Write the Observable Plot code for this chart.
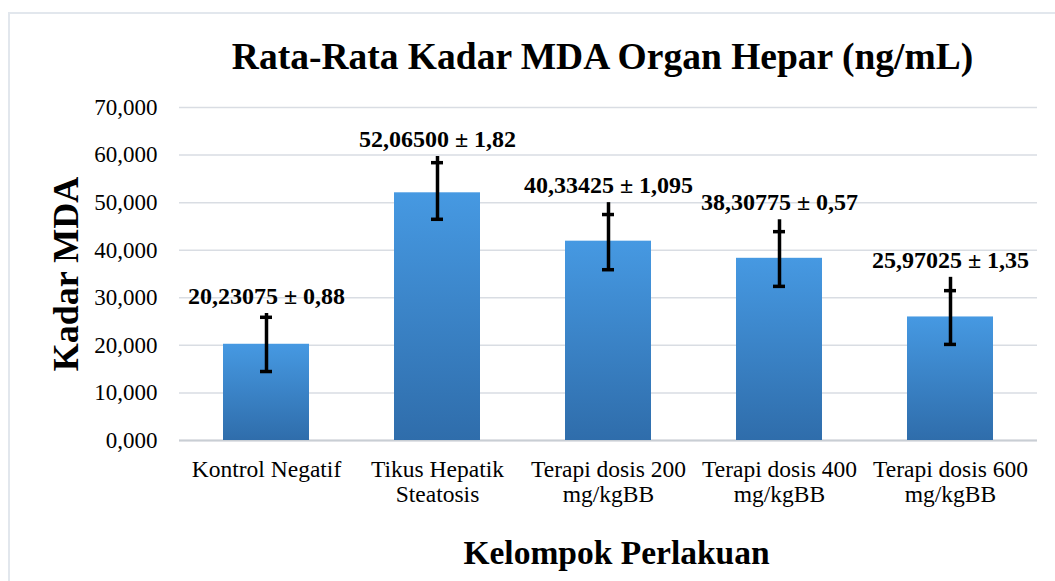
<!DOCTYPE html>
<html>
<head>
<meta charset="utf-8">
<script src="https://cdn.jsdelivr.net/npm/d3@7"></script>
<script src="https://cdn.jsdelivr.net/npm/@observablehq/plot@0.6"></script>
<style>
  html, body { margin: 0; padding: 0; background: #fff; }
  body { width: 1055px; height: 581px; overflow: hidden; position: relative; font-family: "Liberation Serif", "Times New Roman", serif; }
  #frame { position: absolute; left: 8px; top: 12px; width: 1100px; height: 620px; border: 2px solid #e2e7ed; box-sizing: border-box; }
  #chart { position: absolute; left: 0; top: 0; }
</style>
</head>
<body>
<div id="frame"></div>
<div id="chart"></div>
<script>
const titleText = "Rata-Rata Kadar MDA Organ Hepar (ng/mL)";
const yTitle = "Kadar MDA";
const xTitle = "Kelompok Perlakuan";
const categories = ["Kontrol Negatif", "Tikus Hepatik Steatosis", "Terapi dosis 200 mg/kgBB", "Terapi dosis 400 mg/kgBB", "Terapi dosis 600 mg/kgBB"];
const tickLabels = ["Kontrol Negatif", "Tikus Hepatik\nSteatosis", "Terapi dosis 200\nmg/kgBB", "Terapi dosis 400\nmg/kgBB", "Terapi dosis 600\nmg/kgBB"];
const means = [20.23, 52.07, 41.9, 38.3, 25.97];
const errLow = [14.5, 46.5, 35.9, 32.4, 20.2];
const errCap = [25.9, 58.4, 47.5, 43.9, 31.5];
const errHigh = [26.7, 59.7, 50.0, 46.4, 34.3];
const valueLabels = ["20,23075 ± 0,88", "52,06500 ± 1,82", "40,33425 ± 1,095", "38,30775 ± 0,57", "25,97025 ± 1,35"];
const yTicks = [0, 10, 20, 30, 40, 50, 60, 70];

const data = categories.map((c, i) => ({
  cat: c, mean: means[i], low: errLow[i], cap: errCap[i], high: errHigh[i], label: valueLabels[i]
}));

const idLocale = d3.formatLocale({decimal: ",", thousands: ".", grouping: [3], currency: ["", ""]});
const fmt = idLocale.format(".3f");

const defs = () => {
  const d = d3.create("svg:defs");
  const g = d.append("linearGradient").attr("id", "barGrad").attr("x1", 0).attr("y1", 0).attr("x2", 0).attr("y2", 1);
  g.append("stop").attr("offset", "0%").attr("stop-color", "#4699e2");
  g.append("stop").attr("offset", "100%").attr("stop-color", "#2f6dab");
  return d.node();
};

const chart = Plot.plot({
  width: 1055,
  height: 581,
  marginLeft: 179,
  marginRight: 18,
  marginTop: 107,
  marginBottom: 141,
  style: { fontFamily: "'Liberation Serif', 'Times New Roman', serif", color: "#000", background: "transparent" },
  x: { domain: categories, paddingInner: 0.5, paddingOuter: 0.25, label: null },
  y: { domain: [0, 70], label: null },
  marks: [
    defs,
    Plot.gridY(yTicks, { stroke: "#d9dde3", strokeOpacity: 1, strokeWidth: 1.5 }),
    Plot.ruleY([0], { stroke: "#c9ced4", strokeWidth: 2 }),
    Plot.axisY({ ticks: yTicks, tickFormat: fmt, tickSize: 0, tickPadding: 22, fontSize: 23, label: null }),
    Plot.axisX({ tickSize: 0, tickPadding: 19, fontSize: 23.5, lineHeight: 1.06, tickFormat: (d) => tickLabels[categories.indexOf(d)], label: null }),
    Plot.barY(data, { x: "cat", y: "mean", fill: "url(#barGrad)" }),
    Plot.ruleX(data, { x: "cat", y1: "low", y2: "high", stroke: "#000", strokeWidth: 3.5 }),
    Plot.tickY(data, { x: "cat", y: "low", stroke: "#000", strokeWidth: 3.5, insetLeft: 37, insetRight: 37 }),
    Plot.tickY(data, { x: "cat", y: "cap", stroke: "#000", strokeWidth: 3.5, insetLeft: 37, insetRight: 37 }),
    Plot.text(data, { x: "cat", y: "high", text: "label", dy: -17, fontSize: 24, fontWeight: "bold", fill: "#000" }),
    Plot.text([titleText], { frameAnchor: "top", dy: -65, dx: -6, fontSize: 37.5, fontWeight: "bold", fill: "#000" }),
    Plot.text([yTitle], { frameAnchor: "left", textAnchor: "middle", lineAnchor: "middle", dx: -113, rotate: -90, fontSize: 36, fontWeight: "bold", fill: "#000" }),
    Plot.text([xTitle], { frameAnchor: "bottom", dy: 123, dx: 8, fontSize: 33.5, fontWeight: "bold", fill: "#000" })
  ]
});
document.getElementById("chart").appendChild(chart);
</script>
</body>
</html>
